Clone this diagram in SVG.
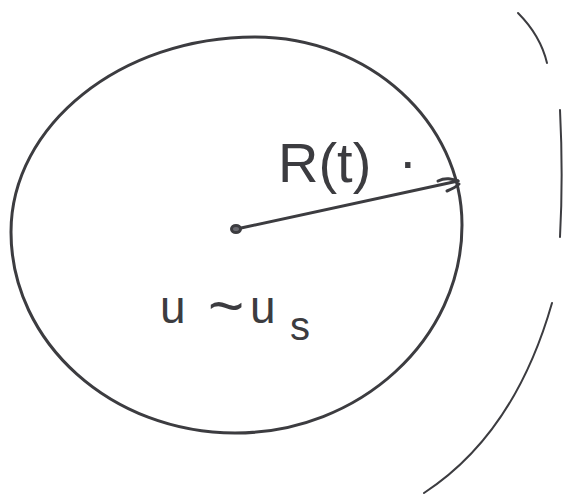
<svg xmlns="http://www.w3.org/2000/svg" width="565" height="499" viewBox="0 0 565 499">
<style>
.ink{fill:none;stroke:#3c3c40;stroke-linecap:round;stroke-linejoin:round}
.lbl{fill:#3c3c40;font-family:"Liberation Sans",Arial,sans-serif}
</style>
<rect width="565" height="499" fill="#ffffff"/>
<g id="bubble">
<path class="ink" stroke-width="3" d="M255,37 C369,37 462,122 462,225 C462,339 360,433 235,433 C112,433 11,343 11,232 C11,125 121,37 255,37 Z"/>
</g>
<g id="outer-front">
<path class="ink" stroke-width="2" d="M518,13 C530,25 542,42 547,63"/>
<path class="ink" stroke-width="2" d="M560,110 C562,150 562,200 560,237"/>
<path class="ink" stroke-width="2" d="M552,303 C530,380 490,450 424,493"/>
</g>
<g id="center">
<ellipse class="ink" stroke-width="3" style="fill:#6a6a70" cx="236" cy="229" rx="4.5" ry="3.5"/>
</g>
<g id="connectors">
<path class="ink" stroke-width="3" d="M241,228 L458,181"/>
<path class="ink" stroke-width="3" d="M438,181 C446,177 452,179 458,181 M447,191 C452,189 456,187 459,184"/>
</g>
<g id="label-radius">
<text class="lbl" x="278" y="182" font-size="56">R(t)<tspan x="400" y="168">.</tspan></text>
</g>
<g id="label-velocity">
<text class="lbl" font-size="46"><tspan x="160" y="323">u</tspan><tspan x="208" y="327" font-size="62">~</tspan><tspan x="250" y="323">u</tspan><tspan x="290" y="340" font-size="40">s</tspan></text>
</g>
</svg>
